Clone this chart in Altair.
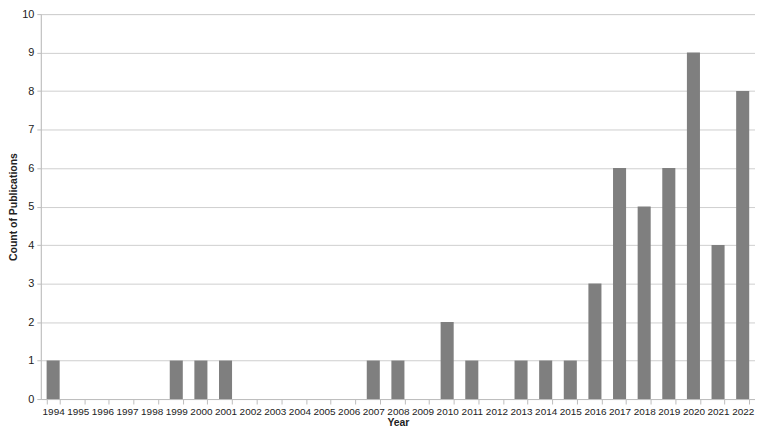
import altair as alt
import pandas as pd

years = [str(y) for y in range(1994, 2023)]
counts = [1, 0, 0, 0, 0, 1, 1, 1, 0, 0, 0, 0, 0, 1, 1, 0, 2, 1, 0, 1, 1, 1, 3, 6, 5, 6, 9, 4, 8]

df = pd.DataFrame({"Year": years, "Count": counts})

chart = alt.Chart(df).mark_bar(color="#7f7f7f").encode(
    x=alt.X("Year:N", sort=years, title="Year",
            scale=alt.Scale(paddingInner=0.47, paddingOuter=0.235),
            axis=alt.Axis(labelAngle=0, tickBand="extent", labelFontSize=10,
                          labelColor="#222", titleFontSize=10.5, titleFontWeight="bold",
                          titleColor="#222", titlePadding=1, labelPadding=3,
                          domainColor="#bdbdbd", tickColor="#bdbdbd", tickSize=5)),
    y=alt.Y("Count:Q", title="Count of Publications",
            scale=alt.Scale(domain=[0, 10], nice=False),
            axis=alt.Axis(values=list(range(0, 11)), labelFontSize=11, labelColor="#222",
                          titleFontSize=10.5, titleFontWeight="bold", titleColor="#222",
                          titlePadding=3, gridColor="#cfcfcf", domainColor="#bdbdbd",
                          tickColor="#bdbdbd", tickSize=4, labelPadding=3)),
).properties(
    width=718, height=387,
    autosize=alt.AutoSizeParams(type="none"),
    padding={"left": 33, "top": 5, "right": 0, "bottom": 30},
).configure_view(stroke=None).configure(font="Liberation Sans")

chart.save("out.html", embed_options={"renderer": "svg", "actions": False})
